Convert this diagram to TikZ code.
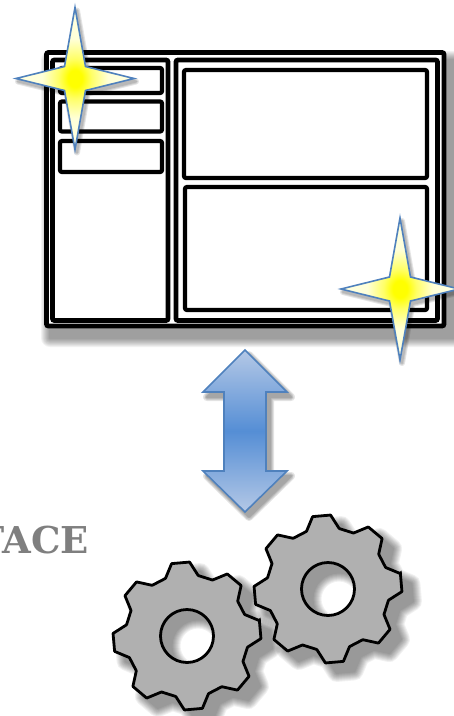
\documentclass[tikz,border=0pt]{standalone}
\usepackage{fontspec}
\newfontfamily\slabfont{DejaVu Serif}
\definecolor{starblue}{HTML}{4F81BD}
\definecolor{arrowlight}{HTML}{B4C8E6}
\definecolor{arrowmid}{HTML}{558ED5}
\definecolor{geargray}{HTML}{B0B0B0}
\definecolor{labelgray}{HTML}{7F7F7F}
\pgfdeclareradialshading{sparkglow}{\pgfpoint{0bp}{0bp}}{color(0bp)=(yellow); color(3bp)=(yellow); color(7bp)=(yellow!60!white); color(14bp)=(yellow!15!white); color(50bp)=(yellow!5!white)}
\tikzset{
  frameline/.style={draw=black,line width=4.8pt,rounded corners=2pt,fill=white},
  boxline/.style  ={draw=black,line width=4.2pt,rounded corners=2pt},
  sparkle/.style  ={draw=starblue,line width=1.6pt,shade,shading=sparkglow},
  updown/.style   ={draw=starblue,line width=1.6pt,top color=arrowlight,bottom color=arrowlight,middle color=arrowmid},
  gearbody/.style ={draw=black,line width=2.8pt,fill=geargray,even odd rule,rounded corners=0.5pt},
  shadelayer/.style={draw=black,fill=black,even odd rule,line join=round},
  lbl/.style      ={font=\fontsize{37}{37}\selectfont\slabfont\bfseries,text=labelgray,inner sep=0pt},
}
\newcommand{\softshadow}[3]{\foreach \w in {#1}{\begin{scope}[transparency group,opacity=#2]\path[shadelayer,line width=\w pt] #3;\end{scope}}}
\newcommand{\starpath}{(0,-71) -- (10.5,-12) -- (59,0) -- (10.5,12) -- (0,71) -- (-10.5,12) -- (-59,0) -- (-10.5,-12) -- cycle}
\newcommand{\gearpath}{(-12:74) \foreach \a in {-5,40,85,130,175,220,265,310}{ -- (\a-7:74) -- (\a+7:74) -- (\a+15.5:61.5) -- (\a+29.5:61.5)} -- cycle (0,0) circle (26.5)}
\newcommand{\updownpath}{(245,350) -- (287,392) -- (266,392) -- (266,471) -- (287,471) -- (245,512) -- (203,471) -- (224,471) -- (224,392) -- (203,392) -- cycle}
\begin{document}
\begin{tikzpicture}[x=1pt,y=-1pt]
  \useasboundingbox (0,0) rectangle (454,716);
  \softshadow{18,16,14,12,10,8,6,4,2}{0.05}{(50,60) rectangle (460,338)}
  \path[frameline] (46.5,52.5) rectangle (444,326);
  \path[frameline] (52.5,60) rectangle (168,320.5);
  \path[frameline] (176,60) rectangle (437.5,320.5);
  \foreach \ya/\yb in {68/93,101.5/131.5,141/172}{\path[boxline] (60,\ya) rectangle (162,\yb);}
  \path[boxline] (184,70) rectangle (427,178);
  \path[boxline] (185,187) rectangle (427,310);
  \foreach \x/\y in {75/78.5,400/289}{
    \begin{scope}[shift={(\x,\y)}]
      \softshadow{6,4,2}{0.1}{[shift={(2,3)}] \starpath}
      \path[sparkle] \starpath;
    \end{scope}
  }
  \softshadow{8,6,4,2}{0.1}{[shift={(4,5)}] \updownpath}
  \path[updown] \updownpath;
  \node[lbl,anchor=base east] (ifacelabel) at (89,553) {FACE};
  \foreach \x/\y in {328/589,187/636}{
    \begin{scope}[shift={(\x,\y)}]
      \softshadow{18,16,14,12,10,8,6,4,2}{0.055}{[shift={(11,10)}] \gearpath}
    \end{scope}
  }
  \foreach \x/\y in {328/589,187/636}{
    \begin{scope}[shift={(\x,\y)}]
      \path[gearbody] \gearpath;
    \end{scope}
  }
\end{tikzpicture}
\end{document}
